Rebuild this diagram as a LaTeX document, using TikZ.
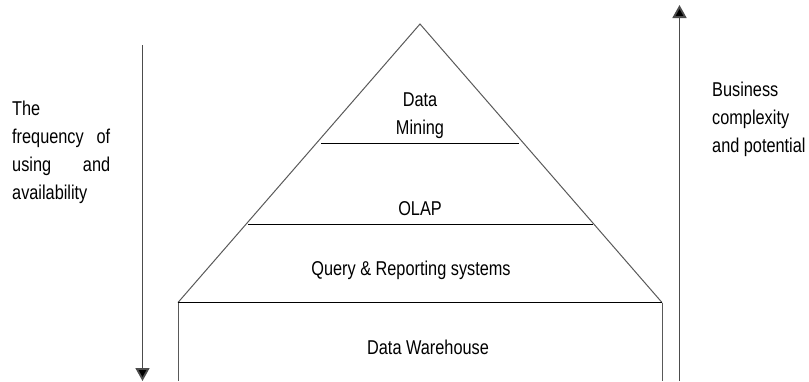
\documentclass[tikz,border=0pt]{standalone}
\usepackage{fontspec}
\setmainfont{Liberation Sans}[FakeStretch=0.815]
\usetikzlibrary{arrows.meta}
\begin{document}
\begin{tikzpicture}[x=1pt,y=-1pt,
  edge/.style={draw=black!65,line width=1pt},
  tier/.style={draw=black,line width=1pt},
  axis/.style={draw=black!70,line width=1.8pt,-{Triangle[width=14pt,length=13pt,fill=black]}},
  lbl/.style={font=\fontsize{20}{28}\selectfont,inner sep=0pt,align=center},
  side/.style={font=\fontsize{20}{28}\selectfont,inner sep=0pt,anchor=north west}]
\useasboundingbox (0,0) rectangle (809,381);
% pyramid outline
\coordinate (apex) at (420,24);
\coordinate (bl) at (178,302.5);
\coordinate (br) at (662,302.5);
\draw[edge] (bl) -- (apex) -- (br);
\draw[edge] (bl) -- (178,381);
\draw[edge] (br) -- (662,381);
% tier separators
\coordinate (m1) at (321,143.5);
\coordinate (m2) at (519,143.5);
\coordinate (o1) at (248,224);
\coordinate (o2) at (593,224);
\draw[tier] (m1) -- (m2);
\draw[tier] (o1) -- (o2);
\draw[tier] (bl) -- (br);
% tier labels
\node[lbl] (dm) at (420,116) {Data\\Mining};
\node[lbl] (olap) at (420,209) {OLAP};
\node[lbl] (qr) at (411,270) {Query \& Reporting systems};
\node[lbl] (dw) at (428,347) {Data Warehouse};
% side arrows
\coordinate (la1) at (142.5,45);
\coordinate (la2) at (142.5,381);
\coordinate (ra1) at (679.5,381);
\coordinate (ra2) at (679.5,5);
\draw[axis] (la1) -- (la2);
\draw[axis] (ra1) -- (ra2);
% side texts
\node[side] (freq) at (12,101) {\begin{minipage}{98pt}\raggedright
The\\
\makebox[98pt][s]{frequency\hfill of}\\
\makebox[98pt][s]{using\hfill and}\\
availability\end{minipage}};
\node[side] (biz) at (712,82) {\begin{minipage}{100pt}\raggedright
Business\\complexity\\and potential\end{minipage}};
\end{tikzpicture}
\end{document}
